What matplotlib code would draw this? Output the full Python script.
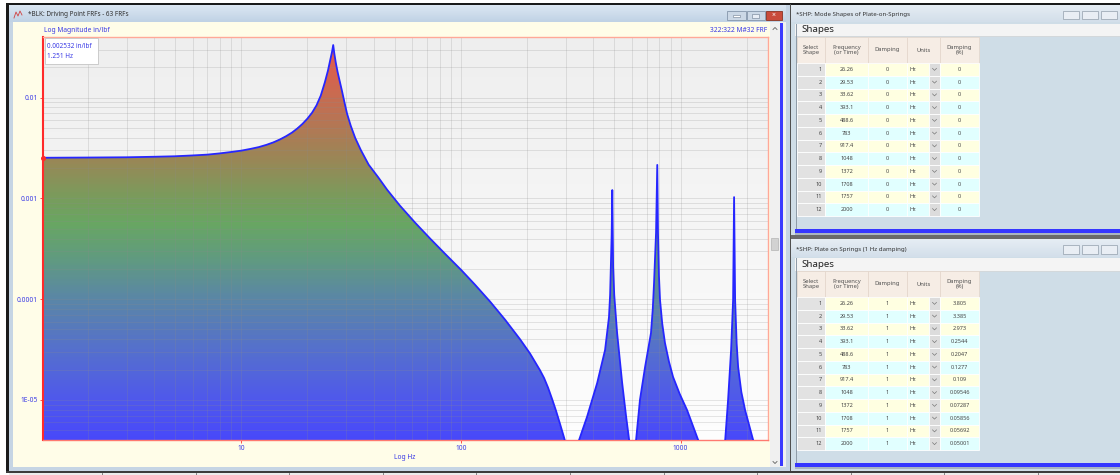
import numpy as np
import matplotlib.pyplot as plt
from matplotlib.colors import LinearSegmentedColormap
from matplotlib.patches import Rectangle
from matplotlib.ticker import FixedLocator, FixedFormatter, NullFormatter

plt.rcParams['font.family'] = ['Noto Sans', 'DejaVu Sans']

# driving point FRF (Hz, in/lbf)
frf_freq = [1.251, 2.0, 3.0, 4.0, 5.0, 6.0, 7.0, 8.0, 9.0, 10.0, 11.0, 12.0, 13.0, 14.0, 15.0,
            16.0, 17.0, 18.0, 19.0, 20.0, 21.0, 22.0, 23.0, 24.0, 24.8, 25.4, 25.9, 26.2,
            26.5, 26.9, 27.4, 28.0, 28.7, 29.5, 30.3, 31.5, 33.0, 35.0, 38.0, 42.0, 46.1,
            52.8, 61.8, 72.4, 84.5, 100.2, 115.9, 135.8, 158.9, 185.9, 206.2, 229, 239, 249, 260,
            271, 283, 294.6, 305, 320,
            345, 375, 417, 453, 472, 477.6, 485.4, 488.6, 493, 498.7, 506.6, 514, 542, 565, 583, 605,
            627, 653, 689, 733, 747, 757, 773, 783, 789, 797, 806, 825, 849, 885, 924, 990, 1071, 1202, 1400,
            1596, 1645, 1698, 1734, 1752, 1771, 1800, 1828, 1890, 1967, 2139, 2300, 2500]
frf_mag = [0.002532, 0.002545, 0.00256, 0.00259, 0.00262, 0.00267, 0.00272, 0.0028, 0.00289, 0.00298, 0.0031,
           0.00323, 0.0034, 0.0036, 0.00385, 0.00415, 0.0045, 0.00495, 0.0055, 0.0062, 0.0071, 0.0084, 0.0105,
           0.0142, 0.0186, 0.0237, 0.0288, 0.0333,
           0.0275, 0.0224, 0.0182, 0.0148, 0.01175, 0.00891, 0.00692, 0.00525, 0.00398, 0.00302, 0.00216,
           0.00162, 0.00122,
           0.000845, 0.000575, 0.000399, 0.000283, 0.000195, 0.000139, 9.44e-5, 6.24e-5, 3.99e-5, 2.89e-5,
           1.97e-5, 1.65e-5, 1.33e-5, 1.02e-5,
           7.78e-6, 5.7e-6, 4.24e-6, 3.2e-6, 1.5e-6,
           4.0e-6, 6.8e-6, 1.47e-5, 3.13e-5, 6.65e-5, 1.1e-4, 4.34e-4, 0.00121, 0.000208, 1.1e-4, 6.97e-5, 4.61e-5,
           1.47e-5, 6.8e-6, 4.0e-6, 1.5e-6,
           4.0e-6, 1.0e-5, 2.12e-5, 4.61e-5, 8.0e-5, 0.000145, 0.000454, 0.00215, 0.000454, 0.00017, 9.8e-5,
           5.7e-5, 3.67e-5, 2.4e-5, 1.69e-5, 1.15e-5, 7.9e-6, 4.0e-6, 1.5e-6,
           4.0e-6, 1.0e-5, 3.13e-5, 9.8e-5, 0.00103, 9.8e-5, 3.6e-5, 2.12e-5, 1.2e-5, 7.9e-6, 4.0e-6, 1.5e-6, 1.2e-6]

x_ticks = [10, 100, 1000]
x_tick_labels = ['10', '100', '1000']
y_ticks = [1e-5, 1e-4, 1e-3, 1e-2]
y_tick_labels = ['1E-05', '0.0001', '0.001', '0.01']

# mode shape tables
shape_no = [1, 2, 3, 4, 5, 6, 7, 8, 9, 10, 11, 12]
shape_freq = [26.26, 29.53, 33.62, 393.1, 488.6, 783, 917.4, 1048, 1372, 1708, 1757, 2000]
damp_top = [0, 0, 0, 0, 0, 0, 0, 0, 0, 0, 0, 0]
damp_pct_top = [0, 0, 0, 0, 0, 0, 0, 0, 0, 0, 0, 0]
damp_bot = [1, 1, 1, 1, 1, 1, 1, 1, 1, 1, 1, 1]
damp_pct_bot = [3.805, 3.385, 2.973, 0.2544, 0.2047, 0.1277, 0.109, 0.09546, 0.07287, 0.05856, 0.05692, 0.05001]
table_headers = ['Select\nShape', 'Frequency\n(or Time)', 'Damping', 'Units', 'Damping\n(%)']

W, H = 1120, 475
fig = plt.figure(figsize=(W / 100, H / 100), dpi=100)
fig.patch.set_facecolor('white')

# pixel-space layer for the window chrome
ui = fig.add_axes([0, 0, 1, 1], zorder=0)
ui.set_xlim(0, W)
ui.set_ylim(H, 0)
ui.axis('off')
over = fig.add_axes([0, 0, 1, 1], zorder=5)
over.set_xlim(0, W)
over.set_ylim(H, 0)
over.axis('off')


def box(a, x0, y0, x1, y1, fc, ec='none', lw=0.6, z=1):
    a.add_patch(Rectangle((x0, y0), x1 - x0, y1 - y0, facecolor=fc, edgecolor=ec, linewidth=lw, zorder=z))


def vgrad(a, x0, y0, x1, y1, c_top, c_bot, z=1):
    cm = LinearSegmentedColormap.from_list('g', [c_top, c_bot])
    a.imshow(np.linspace(0, 1, 32)[:, None], extent=(x0, x1, y1, y0), aspect='auto',
             cmap=cm, origin='upper', zorder=z, interpolation='bilinear')


# outer frame
box(ui, 6, 3, W, 4.5, '#1a1a1a', z=3)
box(ui, 6, 3, 9, 472, '#1a1a1a', z=3)
box(ui, 9, 4, 791, 471, '#c6d5e4')
vgrad(ui, 9, 4.5, 786, 22, '#dde8f3', '#c0d2e5', z=2)
ui.text(28, 14, '*BLK: Driving Point FRFs - 63 FRFs', fontsize=4.6, color='#303030', va='center', zorder=4)
ui.plot([14, 16, 18, 20, 22], [18, 12, 16, 11, 15], color='#d04040', lw=0.6, zorder=4)
box(ui, 13, 22, 770, 467, '#fffde8', z=2)

# window buttons
box(ui, 727, 11, 746, 20, '#cbd8e6', '#8596ab', 0.6, z=3)
box(ui, 747, 11, 765, 20, '#cbd8e6', '#8596ab', 0.6, z=3)
box(ui, 766, 11, 782, 20, '#c94b3b', '#8a3222', 0.6, z=3)
box(ui, 733, 15, 740, 16.5, '#ffffff', '#6c7c90', 0.4, z=4)
box(ui, 752, 13.5, 759, 17.5, '#e8eef6', '#6c7c90', 0.4, z=4)
ui.text(774, 15.3, '×', fontsize=5, color='white', ha='center', va='center', zorder=4, fontweight='bold')

# scroll bar
box(ui, 770, 22, 786, 467, '#f0f0f0', z=2)
box(ui, 779.5, 23, 783, 466, '#3a3aff', z=3)
box(ui, 770.5, 238, 778, 250, '#d2d2d2', '#b4b4b4', 0.5, z=3)
ui.plot([773, 775, 777], [29.5, 27.5, 29.5], color='#606060', lw=0.6, zorder=4)
ui.plot([773, 775, 777], [461.5, 463.5, 461.5], color='#606060', lw=0.6, zorder=4)
box(ui, 786, 4, 791, 471, '#c6d5e4', z=2)
box(ui, 789.5, 4, 791, 471, '#505050', z=3)

# bottom strip
box(ui, 6, 470.5, W, 472.5, '#3c3c3c', z=3)
box(ui, 9, 472.5, W, H, '#ececec', z=2)
for xs in np.arange(102, W, 93.6):
    ui.plot([xs, xs], [472.5, H], color='#707070', lw=0.6, zorder=3)

# plot labels
blue = '#3a3ae6'
ui.text(44, 31, 'Log Magnitude in/lbf', fontsize=4.8, color=blue, va='center', zorder=4)
ui.text(767, 31, '322:322 M#32 FRF', fontsize=4.8, color=blue, va='center', ha='right', zorder=4)
ui.text(405, 457.5, 'Log Hz', fontsize=4.8, color=blue, va='center', ha='center', zorder=4)

# ---- FRF plot ----
ax = fig.add_axes([43 / W, 1 - 440 / H, 725 / W, 403 / H], zorder=2)
ax.set_xscale('log')
ax.set_yscale('log')
ax.set_xlim(1.25, 2500)
ax.set_ylim(4e-6, 0.04)

frf_cmap = LinearSegmentedColormap.from_list('frf', [
    (0.0, '#4848fa'), (0.0995, '#4f58ec'), (0.2245, '#5570cc'), (0.3495, '#5a86a6'),
    (0.4495, '#609a80'), (0.537, '#68a662'), (0.5995, '#789c5c'), (0.6995, '#9a8656'),
    (0.7995, '#b87454'), (0.8995, '#d4644e'), (1.0, '#e8584a')])
bg_cmap = LinearSegmentedColormap.from_list('bg', ['#fdfdfd', '#eeeeee'])

ylev = np.logspace(np.log10(4e-6), np.log10(0.04), 201)
xlev = np.array([1.25, 2500])
zc = np.log10(np.sqrt(ylev[:-1] * ylev[1:]))[:, None]
ax.pcolormesh(xlev, ylev, zc, cmap=bg_cmap, vmin=-5.398, vmax=-1.398, shading='flat', zorder=0.2)
fill_mesh = ax.pcolormesh(xlev, ylev, zc, cmap=frf_cmap, vmin=-5.398, vmax=-1.398, shading='flat', zorder=1)
poly = ax.fill_between(frf_freq, frf_mag, 1e-8, facecolor='none', edgecolor='none')
fill_mesh.set_clip_path(poly.get_paths()[0], ax.transData)
ax.plot(frf_freq, frf_mag, color='#2626ff', lw=1.3, zorder=3, solid_joinstyle='round')
ax.plot([frf_freq[0]], [frf_mag[0]], 'o', color='#ff2a2a', ms=2.6, zorder=4, clip_on=False)

ax.set_axisbelow('line')
ax.grid(True, which='both', color='#8c8c8c', alpha=0.22, lw=0.7)
ax.xaxis.set_major_locator(FixedLocator(x_ticks))
ax.xaxis.set_major_formatter(FixedFormatter(x_tick_labels))
ax.yaxis.set_major_locator(FixedLocator(y_ticks))
ax.yaxis.set_major_formatter(FixedFormatter(y_tick_labels))
ax.xaxis.set_minor_formatter(NullFormatter())
ax.yaxis.set_minor_formatter(NullFormatter())
ax.tick_params(which='major', length=2.2, width=0.6, color='#ff3030', labelcolor=blue, labelsize=4.8, pad=1.5)
ax.tick_params(which='minor', length=0)
for s in ['top', 'right']:
    ax.spines[s].set_color('#ffa898')
    ax.spines[s].set_linewidth(1.0)
ax.spines['bottom'].set_color('#ff7a70')
ax.spines['bottom'].set_linewidth(1.0)
ax.spines['left'].set_color('#ff2a2a')
ax.spines['left'].set_linewidth(1.5)

# cursor readout box
box(over, 44.5, 37.5, 98, 63.5, 'white', '#c4c4c4', 0.6)
over.text(47, 46, '%.6f in/lbf' % frf_mag[0], fontsize=4.6, color=blue, va='center')
over.text(47, 57, '%.3f Hz' % frf_freq[0], fontsize=4.6, color=blue, va='center')

# ---- shape tables ----
cols = [797, 825, 868, 907, 940, 979]
dd = 929
txt = '#454545'


def panel(y0, y1, title, hdr_y, row_y, row_h, damp, pct, bar_y):
    box(ui, 791, y0, W, y1, '#cfdde7')
    vgrad(ui, 791, y0, W, y0 + 18, '#e6edf4', '#d3dfea', z=2)
    ui.text(796, y0 + 10, title, fontsize=4.4, color='#303030', va='center', zorder=4)
    for bx in [1063, 1082, 1101]:
        box(ui, bx, y0 + 6, bx + 16, y0 + 14.5, '#e9eef4', '#929eab', 0.5, z=3)
    box(ui, 795, y0 + 19, W, y0 + 31.5, '#f4f4f4', z=2)
    ui.plot([795, W], [y0 + 31.5, y0 + 31.5], color='#d6d6d6', lw=0.5, zorder=3)
    ui.text(801, y0 + 25.5, 'Shapes', fontsize=7, fontweight='bold', color='#222222', va='center', zorder=4)
    ui.plot([795.5, 795.5], [y0 + 19, bar_y], color='#8d9aa6', lw=0.7, zorder=3)
    # header
    for c in range(5):
        box(ui, cols[c], hdr_y, cols[c + 1], row_y, '#f6ede5', '#e4d6ca', 0.5, z=3)
        ui.text((cols[c] + cols[c + 1]) / 2, (hdr_y + row_y) / 2, table_headers[c], fontsize=4.2,
                color='#505050', ha='center', va='center', linespacing=1.1, zorder=4)
    for i in range(len(shape_no)):
        ya = row_y + i * row_h
        yb = ya + row_h
        ym = (ya + yb) / 2
        rc = '#ffffe1' if i % 2 == 0 else '#e1ffff'
        box(ui, cols[0], ya, cols[1], yb, '#e2e2e2', 'white', 0.6, z=3)
        box(ui, cols[1], ya, cols[2], yb, rc, 'white', 0.6, z=3)
        box(ui, cols[2], ya, cols[3], yb, rc, 'white', 0.6, z=3)
        box(ui, cols[3], ya, dd, yb, rc, 'white', 0.6, z=3)
        box(ui, dd, ya, cols[4], yb, '#dcdcdc', 'white', 0.6, z=3)
        box(ui, cols[4], ya, cols[5], yb, rc, 'white', 0.6, z=3)
        ui.text(cols[1] - 3, ym, str(shape_no[i]), fontsize=4, color=txt, ha='right', va='center', zorder=4)
        ui.text((cols[1] + cols[2]) / 2, ym, format(shape_freq[i], '.4g'), fontsize=4, color=txt,
                ha='center', va='center', zorder=4)
        ui.text((cols[2] + cols[3]) / 2, ym, format(damp[i], 'g'), fontsize=4, color=txt,
                ha='center', va='center', zorder=4)
        ui.text(910, ym, 'Hz', fontsize=4, color=txt, va='center', zorder=4)
        ui.plot([932.5, 934.5, 936.5], [ym - 1, ym + 1, ym - 1], color='#7a7a7a', lw=0.5, zorder=4)
        ui.text((cols[4] + cols[5]) / 2, ym, format(pct[i], '.4g'), fontsize=4, color=txt,
                ha='center', va='center', zorder=4)
    box(ui, 795, bar_y, W, bar_y + 4, '#3636ff', z=3)
    box(ui, 795, bar_y + 4, W, bar_y + 5.5, '#aab4c0', z=3)


panel(4.5, 235, '*SHP: Mode Shapes of Plate-on-Springs', 37, 63, 12.75, damp_top, damp_pct_top, 229)
box(ui, 791, 235, W, 239, '#6a6a6a', z=3)
panel(239, 471, '*SHP: Plate on Springs (1 Hz damping)', 271, 297, 12.75, damp_bot, damp_pct_bot, 463)

fig.savefig('out.png', dpi=100)
